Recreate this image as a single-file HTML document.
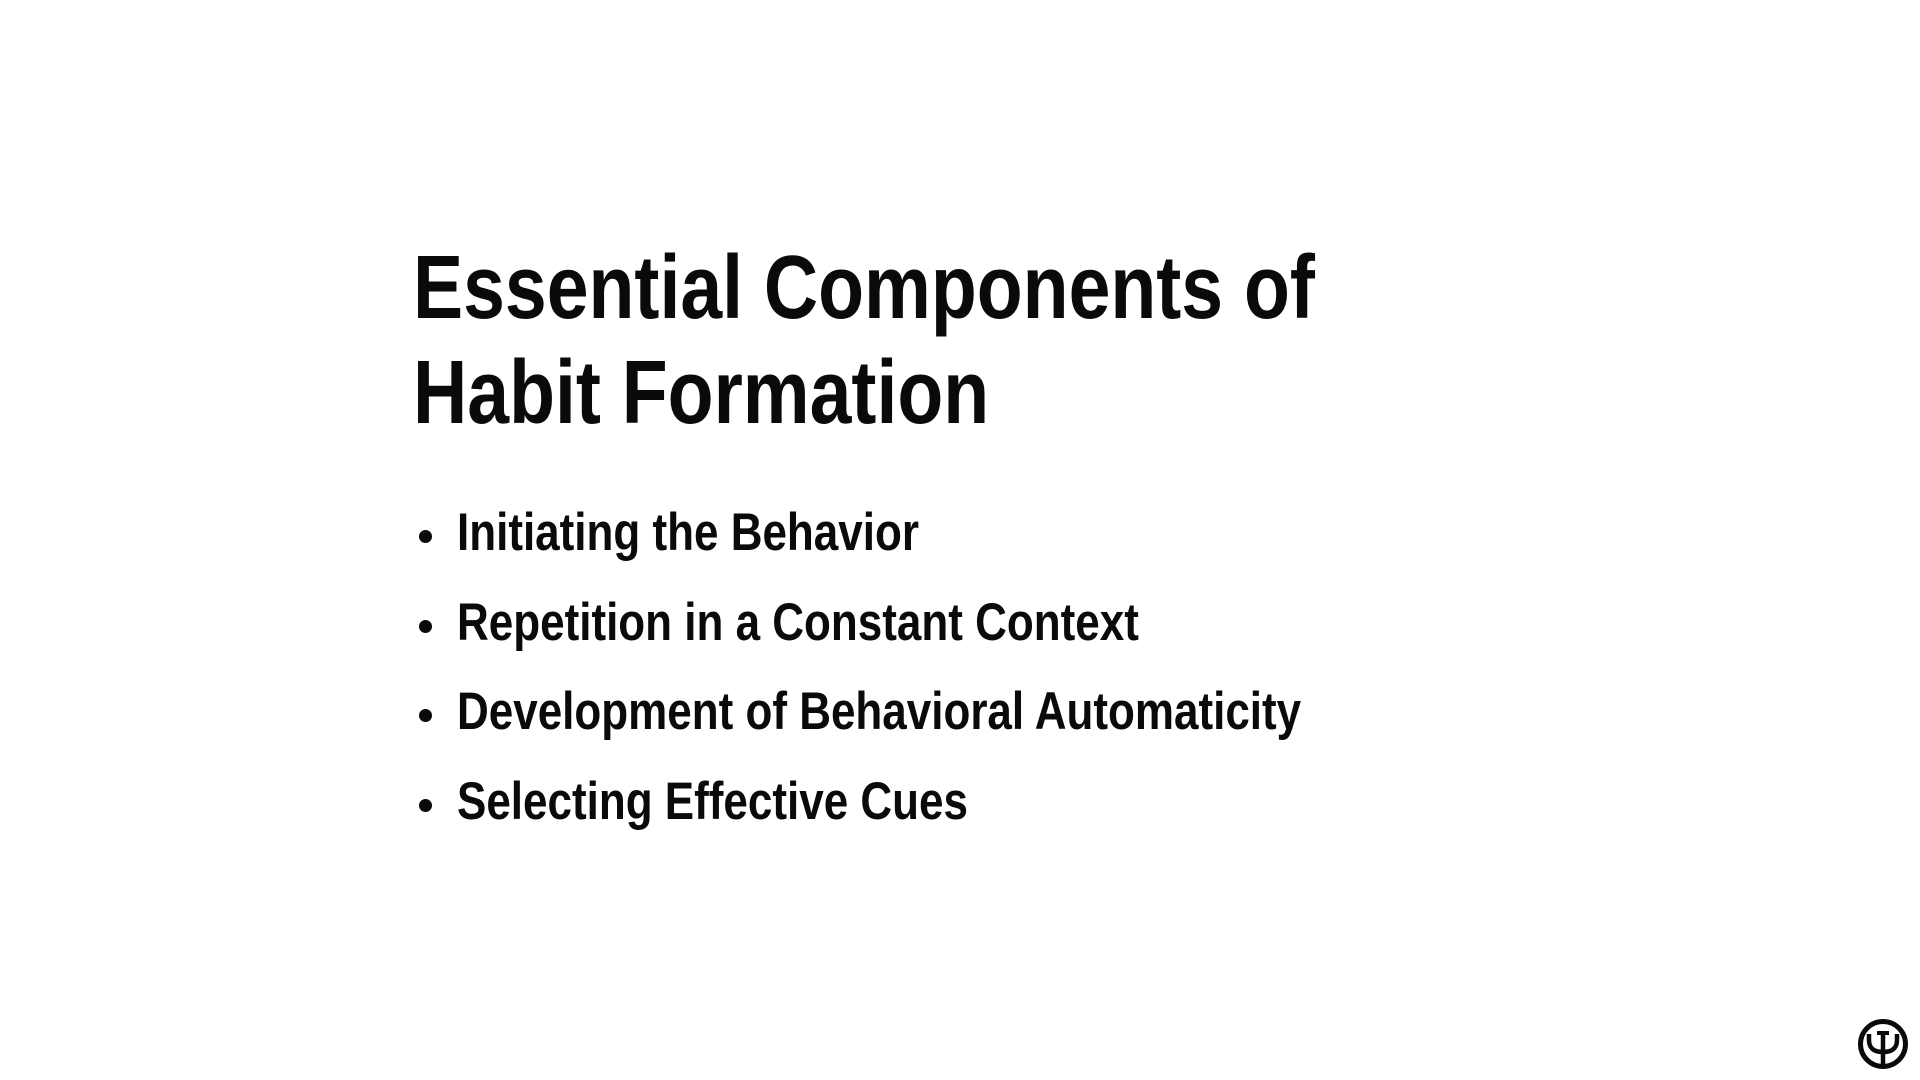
<!DOCTYPE html>
<html><head><meta charset="utf-8"><style>
html,body{margin:0;padding:0;background:#fff;width:1920px;height:1080px;overflow:hidden}
body{position:relative;font-family:"Liberation Sans",sans-serif;color:#0a0a0a}
.t{position:absolute;left:413px;white-space:nowrap;font-weight:bold;font-size:90px;line-height:1;transform-origin:left bottom;transform:scaleX(0.835)}
.b{position:absolute;left:457px;white-space:nowrap;font-weight:bold;font-size:53px;line-height:1;transform-origin:left bottom;transform:scaleX(0.83)}
.dot{position:absolute;left:419px;width:13px;height:13px;border-radius:50%;background:#0a0a0a}
</style></head><body>
<div>
<div class="t" style="top:243px">Essential Components of</div>
<div class="t" style="top:348px">Habit Formation</div>
</div>
<div>
<div class="dot" style="top:530px"></div>
<div class="b" style="top:506px">Initiating the Behavior</div>
<div class="dot" style="top:620px"></div>
<div class="b" style="top:596px">Repetition in a Constant Context</div>
<div class="dot" style="top:709px"></div>
<div class="b" style="top:685px">Development of Behavioral Automaticity</div>
<div class="dot" style="top:799px"></div>
<div class="b" style="top:775px">Selecting Effective Cues</div>
</div>
<svg style="position:absolute;left:1857px;top:1018px" width="52" height="52" viewBox="0 0 52 52">
<circle cx="26" cy="26" r="22.5" fill="none" stroke="#0a0a0a" stroke-width="5"/>
<path d="M12 16 V22 Q12 34 26 34 Q40 34 40 22 V16" fill="none" stroke="#0a0a0a" stroke-width="4.5"/>
<line x1="26" y1="14" x2="26" y2="47" stroke="#0a0a0a" stroke-width="4.5"/>
<line x1="20" y1="15" x2="32" y2="15" stroke="#0a0a0a" stroke-width="4"/>
</svg>
</body></html>
